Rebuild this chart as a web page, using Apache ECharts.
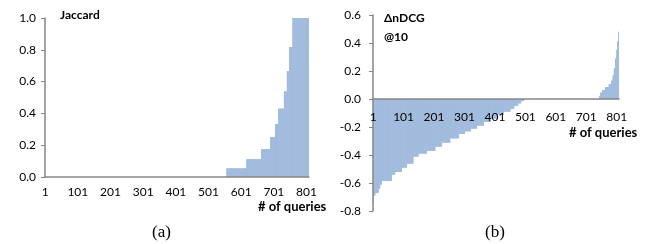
<!DOCTYPE html>
<html>
<head>
<meta charset="utf-8">
<title></title>
<style>
	html, body { margin: 0; padding: 0; background: #fff; }
	#main { width: 654px; height: 244px; }
</style>
</head>
<body>
<div id="main"></div>
<script src="https://cdn.jsdelivr.net/npm/echarts@6/dist/echarts.min.js"></script>
<script>
// number of queries on the x axis (1 .. 808)
var queryCount = 808;

// Jaccard, sorted ascending: run lengths and the value held in each run
var jaccardCounts = [556, 61, 45, 28, 15, 9, 18, 9, 7, 10, 50];
var jaccardValues = [0, 0.053, 0.111, 0.176, 0.25, 0.333, 0.429, 0.538, 0.667, 0.818, 1.0];

// delta nDCG@10, sorted ascending: run lengths and values
var ndcgCounts = [1, 6, 11, 5, 5, 33, 11, 22, 17, 21, 17, 27, 28, 22, 27, 28, 20, 20, 20, 22, 23, 21, 22, 22, 12, 13, 10, 10,
	247,
	4, 6, 10, 12, 8, 5, 4, 4, 4, 3, 3, 2];
var ndcgValues = [-0.74, -0.69, -0.67, -0.64, -0.61, -0.585, -0.54, -0.52, -0.49, -0.46, -0.41, -0.39, -0.37, -0.34, -0.31, -0.28, -0.25, -0.23, -0.21, -0.19, -0.165, -0.14, -0.115, -0.09, -0.07, -0.05, -0.03, -0.012,
	0,
	0.02, 0.045, 0.065, 0.085, 0.105, 0.13, 0.17, 0.22, 0.29, 0.35, 0.41, 0.48];

var queries = [];
for (var i = 0; i < queryCount; i++) queries.push(String(i + 1));

// expand runs into one value per query
function expandRuns(counts, values) {
	var out = [];
	for (var k = 0; k < counts.length; k++) {
		for (var j = 0; j < counts[k]; j++) out.push(values[k]);
	}
	return out;
}
var jaccardData = expandRuns(jaccardCounts, jaccardValues);
var ndcgData = expandRuns(ndcgCounts, ndcgValues);

var axisGrey = '#868686';
var barBlue = '#a3bcde';
var font = 'Lato';

// offset: moves the x axis up so it sits on the zero line
function xAxisCfg(gridIndex, offset, margin) {
	return {
		gridIndex: gridIndex,
		type: 'category',
		data: queries,
		boundaryGap: true,
		offset: offset,
		z: 5,  // labels drawn over the bars
		axisLine: { onZero: false, lineStyle: { color: axisGrey, width: 1.5 } },
		axisTick: { interval: 49, alignWithLabel: true, length: 4, lineStyle: { color: axisGrey } },
		axisLabel: { interval: 99, margin: margin, color: '#000', fontFamily: font, fontSize: 12 },
		splitLine: { show: false }
	};
}
function yAxisCfg(gridIndex, min, max, margin) {
	return {
		gridIndex: gridIndex,
		type: 'value',
		min: min,
		max: max,
		interval: 0.2,
		z: 5,
		axisLine: { show: true, onZero: false, lineStyle: { color: axisGrey, width: 1.5 } },
		axisTick: { show: true, length: 4, lineStyle: { color: axisGrey } },
		axisLabel: {
			margin: margin, color: '#000', fontFamily: font, fontSize: 12,
			formatter: function (v) { return v.toFixed(1); }
		},
		splitLine: { show: false }
	};
}

var myChart = echarts.init(document.getElementById('main'));
myChart.setOption({
	animation: false,
	grid: [
		{ left: 45, top: 18, width: 264, height: 159 },
		{ left: 373, top: 15, width: 246, height: 196 }
	],
	xAxis: [xAxisCfg(0, 0, 9), xAxisCfg(1, -112, 12)],
	yAxis: [yAxisCfg(0, 0, 1, 9), yAxisCfg(1, -0.8, 0.6, 12)],
	series: [
		{
			type: 'bar', xAxisIndex: 0, yAxisIndex: 0, data: jaccardData,
			barCategoryGap: '0%', itemStyle: { color: barBlue }, silent: true
		},
		{
			type: 'bar', xAxisIndex: 1, yAxisIndex: 1, data: ndcgData,
			barCategoryGap: '0%', itemStyle: { color: barBlue }, silent: true
		}
	],
	graphic: [
		{ type: 'text', left: 60, top: 9, style: { text: 'Jaccard', font: 'bold 12px Lato', fill: '#000' } },
		{ type: 'text', left: 384, top: 9, style: { text: 'ΔnDCG\n@10', font: 'bold 12px Lato', lineHeight: 19, fill: '#000' } },
		{ type: 'text', left: 258, top: 200, style: { text: '# of queries', font: 'bold 13px Lato', fill: '#000' } },
		{ type: 'text', left: 569, top: 126, style: { text: '# of queries', font: 'bold 13px Lato', fill: '#000' } },
		{ type: 'text', left: 152, top: 224, style: { text: '(a)', font: '17px "Liberation Serif"', fill: '#000' } },
		{ type: 'text', left: 485, top: 224, style: { text: '(b)', font: '17px "Liberation Serif"', fill: '#000' } }
	]
});
</script>
</body>
</html>
